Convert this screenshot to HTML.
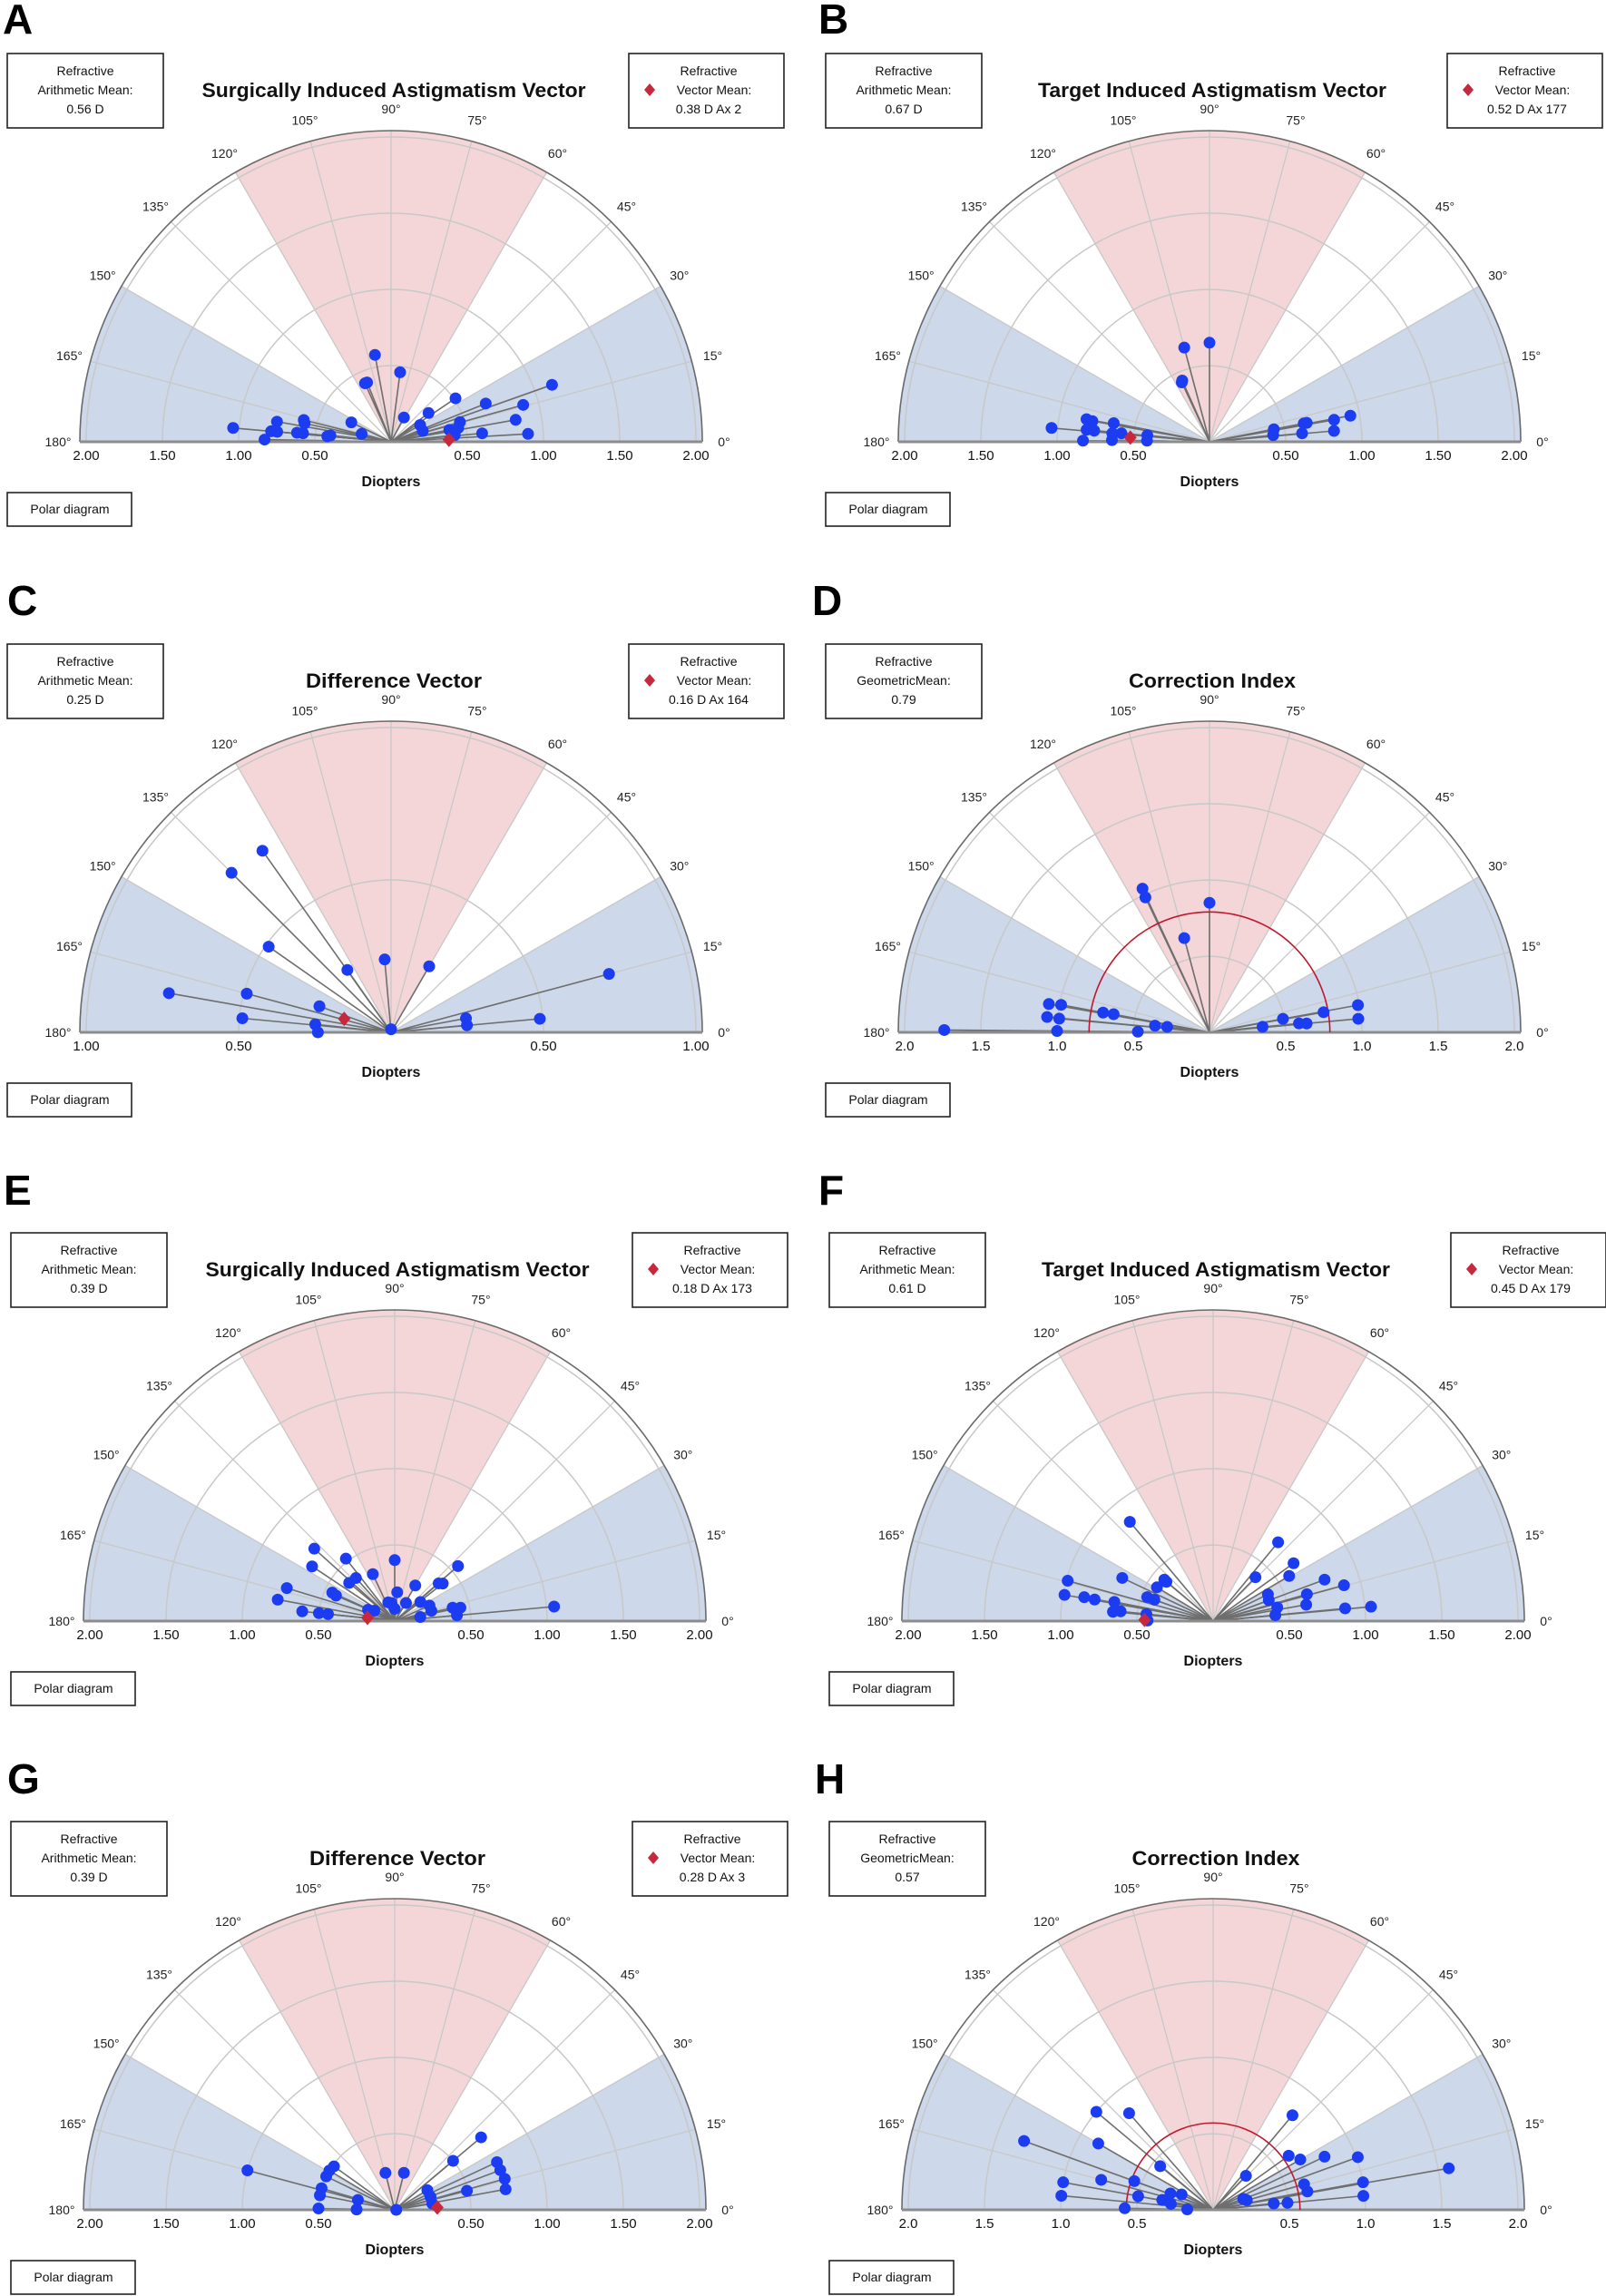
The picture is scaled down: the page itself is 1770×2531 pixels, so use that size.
<!DOCTYPE html>
<html><head><meta charset="utf-8">
<style>
html,body{margin:0;padding:0;background:#fff;}
svg{display:block;font-family:"Liberation Sans",sans-serif;}
</style></head>
<body>
<svg id="fig" width="1770" height="2531" viewBox="0 0 1770 2531" xmlns="http://www.w3.org/2000/svg"></svg>
<script>
// ---- Data (magnitude in D, axis in degrees) ----
const A_mag=[1.04,0.83,0.76,0.79,0.75,0.59,0.58,0.62,0.58,0.42,0.40,0.29,0.20,0.42,0.42,0.58,0.46,0.18,0.31,0.22,0.22,0.51,0.47,0.45,0.39,0.42,0.67,0.90,1.12,0.83,0.60,0.90];
const A_ax=[175,179,170,175,175,166,168,174.5,174.5,175,174,154,165,114,112,100.5,82.6,62,37.5,30,19,34,16,11.6,11.5,6,22,15.6,19.5,10,5.3,3.3];
const B_mag=[1.04,0.82,0.78,0.81,0.76,0.83,0.64,0.64,0.64,0.58,0.41,0.41,0.64,0.65,0.43,0.44,0.43,0.42,0.63,0.65,0.61,0.83,0.82,0.94];
const B_ax=[175,169.6,170,174.4,174.5,179.5,169,175,179,174.5,174,179,105,90,115,114,11,6,11,11,5.2,10,5,10.5];
const C_mag=[0.73,0.74,0.49,0.25,0.24,0.25,0.74,0.49,0.25,0.49,0.25,0.24,0.01,0.25,0.25,0.49,0.74];
const C_ax=[125.3,135,145,125,95,60,170,165,160,174.6,174,180,90,10.6,5.4,5.2,15];
const D_mag=[1.04,0.98,0.85,0.64,1.07,0.99,1.07,0.99,1.00,1.74,0.71,0.64,0.47,0.36,0.28,0.35,0.49,0.59,0.64,0.76,0.99,0.98];
const D_ax=[115,115.4,90,105,170,169.5,174.6,174.8,179.5,179.5,169.5,169.3,179.5,173,172.6,6,10.4,5.7,5.2,10,10.4,5.2];
const E_mag=[0.71,0.65,0.52,0.40,0.34,0.38,0.39,0.74,0.78,0.45,0.42,0.61,0.50,0.44,0.13,0.12,0.08,0.19,0.19,0.15,0.14,0.27,0.38,0.40,0.55,0.21,0.25,0.25,0.17,0.39,0.44,0.41,1.05];
const E_ax=[138,146.5,128,90,115,132,140,163,169.6,155.5,156.5,174,174,174,109,100,90,85,157,153,58,60,40.6,38,41,36.5,24,15.6,9,13,11.5,5.3,5.2];
const F_mag=[0.85,0.99,0.99,0.86,0.79,0.66,0.66,0.61,0.66,0.43,0.42,0.40,0.46,0.41,0.44,0.43,0.67,0.65,0.40,0.58,0.78,0.89,0.40,0.39,0.64,0.62,0.43,0.41,0.87,1.04];
const F_ax=[130,164.5,170,169.5,169.7,169,174.7,174,154.6,149,139.7,140,160,160,174,179.5,50.5,35.7,46,30.7,20.4,15.3,26,20.6,16,10,12,5.4,5.5,5.2];
const G_mag=[1.00,0.49,0.50,0.50,0.50,0.50,0.50,0.25,0.25,0.25,0.25,0.01,0.74,0.50,0.74,0.74,0.75,0.74,0.49,0.25,0.25,0.25];
const G_ax=[165,144.4,149,154,163.6,169,179,165,179.5,104,76,0,40,40,25,20.6,15.7,10.5,14.8,31,20,9.3];
const H_mag=[1.00,0.84,1.32,0.87,0.45,0.76,0.55,1.00,1.00,0.50,0.30,0.23,0.34,0.28,0.58,0.17,0.81,0.31,0.61,0.66,0.81,1.01,1.57,1.00,0.99,0.62,0.63,0.21,0.23,0.40,0.49];
const H_ax=[140,131,160,150,140.5,165,160,169.6,174.7,169.7,159,154,169,172,179,179,50,46,35.6,30,25.5,20,10,10.4,5.3,15.7,11,20,16,6,5.4];
const meanMags=[0.38,0.52,0.16,0.79,0.18,0.45,0.28,0.57];
const meanAxes=[2,177,164,0,173,179,3,0];
const tickVec=["2.00","1.50","1.00","0.50"];
const tickC=["1.00","0.50"];
const tickCI=["2.0","1.5","1.0","0.5"];
const degLabels=[0,15,30,45,60,75,90,105,120,135,150,165,180];

const NS="http://www.w3.org/2000/svg";
const svg=document.getElementById('fig');
function el(tag,attrs,parent,text){const e=document.createElementNS(NS,tag);for(const k in attrs)e.setAttribute(k,attrs[k]);if(text!==undefined)e.textContent=text;(parent||svg).appendChild(e);return e;}

const R=336, RO=343;
const panels=[
 {id:'a',L:'A',lx:3,ly:37,cx:431,cy:487,max:2,ticks:tickVec,mag:A_mag,ax:A_ax,title:'Surgically Induced Astigmatism Vector',tw:423,left:['Refractive','Arithmetic Mean:','0.56 D'],right:'0.38 D Ax 2',ci:false},
 {id:'b',L:'B',lx:902,ly:37,cx:1333,cy:487,max:2,ticks:tickVec,mag:B_mag,ax:B_ax,title:'Target Induced Astigmatism Vector',tw:384,left:['Refractive','Arithmetic Mean:','0.67 D'],right:'0.52 D Ax 177',ci:false},
 {id:'c',L:'C',lx:8,ly:678,cx:431,cy:1138,max:1,ticks:tickC,mag:C_mag,ax:C_ax,title:'Difference Vector',tw:194,left:['Refractive','Arithmetic Mean:','0.25 D'],right:'0.16 D Ax 164',ci:false},
 {id:'d',L:'D',lx:895,ly:678,cx:1333,cy:1138,max:2,ticks:tickCI,mag:D_mag,ax:D_ax,title:'Correction Index',tw:184,left:['Refractive','GeometricMean:','0.79'],right:null,ci:true},
 {id:'e',L:'E',lx:4,ly:1328,cx:435,cy:1787,max:2,ticks:tickVec,mag:E_mag,ax:E_ax,title:'Surgically Induced Astigmatism Vector',tw:423,left:['Refractive','Arithmetic Mean:','0.39 D'],right:'0.18 D Ax 173',ci:false},
 {id:'f',L:'F',lx:902,ly:1328,cx:1337,cy:1787,max:2,ticks:tickVec,mag:F_mag,ax:F_ax,title:'Target Induced Astigmatism Vector',tw:384,left:['Refractive','Arithmetic Mean:','0.61 D'],right:'0.45 D Ax 179',ci:false},
 {id:'g',L:'G',lx:8,ly:1977,cx:435,cy:2436,max:2,ticks:tickVec,mag:G_mag,ax:G_ax,title:'Difference Vector',tw:194,left:['Refractive','Arithmetic Mean:','0.39 D'],right:'0.28 D Ax 3',ci:false},
 {id:'h',L:'H',lx:898,ly:1977,cx:1337,cy:2436,max:2,ticks:tickCI,mag:H_mag,ax:H_ax,title:'Correction Index',tw:185,left:['Refractive','GeometricMean:','0.57'],right:null,ci:true}
];

function sector(cx,cy,r,a1,a2){
  const p1=[cx+r*Math.cos(a1*Math.PI/180),cy-r*Math.sin(a1*Math.PI/180)];
  const p2=[cx+r*Math.cos(a2*Math.PI/180),cy-r*Math.sin(a2*Math.PI/180)];
  return `M${cx},${cy} L${p1[0]},${p1[1]} A${r},${r} 0 0 0 ${p2[0]},${p2[1]} Z`;
}

panels.forEach((p,i)=>{
  const g=el('g',{});
  
  
  const {cx,cy}=p;
  const rScale=m=>m/p.max*R;
  const X=(m,a)=>cx+rScale(m)*Math.cos(a*Math.PI/180);
  const Y=(m,a)=>cy-rScale(m)*Math.sin(a*Math.PI/180);

  const lt=el('text',{x:p.lx,y:p.ly,'font-size':46,'font-weight':'bold',fill:'#000'},g,p.L);
  
  

  // background semicircle
  el('path',{d:sector(cx,cy,RO,0,180),fill:'#fff'},g);
  const bs1=el('path',{d:sector(cx,cy,RO,0,30),fill:'#cdd8ea'},g);
  
  
  const bs2=el('path',{d:sector(cx,cy,RO,150,180),fill:'#cdd8ea'},g);
  
  
  const ps=el('path',{d:sector(cx,cy,RO,60,120),fill:'#f4d6d8'},g);
  
  

  // rings
  const ringVals=p.max===1?[0.5,1.0]:[0.5,1.0,1.5,2.0];
  ringVals.forEach(v=>{
    const rr=rScale(v);
    const ring=el('path',{d:`M${cx-rr},${cy} A${rr},${rr} 0 0 1 ${cx+rr},${cy}`,fill:'none',stroke:'#c8c8c8','stroke-width':1.5},g);
    
    
  });
  // spokes
  for(let a=15;a<180;a+=15){
    const sp=el('line',{x1:cx,y1:cy,x2:cx+RO*Math.cos(a*Math.PI/180),y2:cy-RO*Math.sin(a*Math.PI/180),stroke:'#c8c8c8','stroke-width':1.3},g);
    
    
  }
  const oa=el('path',{d:`M${cx-RO},${cy} A${RO},${RO} 0 0 1 ${cx+RO},${cy}`,fill:'none',stroke:'#6a6a6a','stroke-width':1.6},g);
  
  

  // lines to points
  p.mag.forEach((m,k)=>{
    const ln=el('line',{x1:cx,y1:cy,x2:X(m,p.ax[k]),y2:Y(m,p.ax[k]),stroke:'#6e6e6e','stroke-width':1.6},g);
    
    
  });
  const bl=el('line',{x1:cx-RO,y1:cy,x2:cx+RO,y2:cy,stroke:'#8c8c8c','stroke-width':3},g);
  
  

  if(p.ci){
    const rr=rScale(meanMags[i]);
    const mc=el('path',{d:`M${cx-rr},${cy} A${rr},${rr} 0 0 1 ${cx+rr},${cy}`,fill:'none',stroke:'#c0182e','stroke-width':1.6},g);
    
    
  }
  p.mag.forEach((m,k)=>{
    const c=el('circle',{cx:X(m,p.ax[k]),cy:Y(m,p.ax[k]),r:6.5,fill:'#1c3cf2'},g);
    
    
  });
  if(!p.ci){
    const mx=X(meanMags[i],meanAxes[i]),my=Y(meanMags[i],meanAxes[i]);
    const dm=el('path',{d:`M${mx},${my-8} L${mx+7},${my} L${mx},${my+8} L${mx-7},${my} Z`,fill:'#c8283c'},g);
    
    
  }

  // degree labels
  degLabels.forEach(d=>{
    const lr=367;
    const t=el('text',{x:cx+lr*Math.cos(d*Math.PI/180),y:cy-lr*Math.sin(d*Math.PI/180)+5,'font-size':14,'text-anchor':'middle',fill:'#222'},g,d+'°');
    
    
  });
  // tick labels
  p.ticks.forEach(s=>{
    const v=parseFloat(s);
    [-1,1].forEach(sg=>{
      const t=el('text',{x:cx+sg*rScale(v),y:cy+20,'font-size':15,'text-anchor':'middle',fill:'#111'},g,s);
      
      
    });
  });
  const dl=el('text',{x:cx,y:cy+49,'font-size':16,'font-weight':'bold','text-anchor':'middle',fill:'#111'},g,'Diopters');
  
  

  // title
  const tt=el('text',{x:cx+3,y:cy-380,'font-size':22,'font-weight':'bold','text-anchor':'middle',fill:'#111',textLength:p.tw,lengthAdjust:'spacingAndGlyphs'},g,p.title);
  
  

  // left box
  const lb=el('g',{},g);
  
  
  el('rect',{x:cx-423,y:cy-428,width:172,height:82,fill:'#fff',stroke:'#222','stroke-width':1.6},lb);
  p.left.forEach((s,k)=>{
    el('text',{x:cx-337,y:cy-404+k*21,'font-size':14,'text-anchor':'middle',fill:'#111'},lb,s);
  });
  if(p.right){
    const rb=el('g',{},g);
    
    
    el('rect',{x:cx+262,y:cy-428,width:171,height:82,fill:'#fff',stroke:'#222','stroke-width':1.6},rb);
    el('text',{x:cx+350,y:cy-404,'font-size':14,'text-anchor':'middle',fill:'#111'},rb,'Refractive');
    el('text',{x:cx+356,y:cy-383,'font-size':14,'text-anchor':'middle',fill:'#111'},rb,'Vector Mean:');
    el('text',{x:cx+350,y:cy-362,'font-size':14,'text-anchor':'middle',fill:'#111'},rb,p.right);
    const dx=cx+285,dy=cy-388;
    el('path',{d:`M${dx},${dy-7} L${dx+6},${dy} L${dx},${dy+7} L${dx-6},${dy} Z`,fill:'#c8283c'},rb);
  }
  // polar diagram button
  const pb=el('g',{},g);
  
  
  el('rect',{x:cx-423,y:cy+56,width:137,height:37,fill:'#fff',stroke:'#222','stroke-width':1.6},pb);
  el('text',{x:cx-354,y:cy+79,'font-size':14,'text-anchor':'middle',fill:'#111'},pb,'Polar diagram');
});
</script>
</body></html>
